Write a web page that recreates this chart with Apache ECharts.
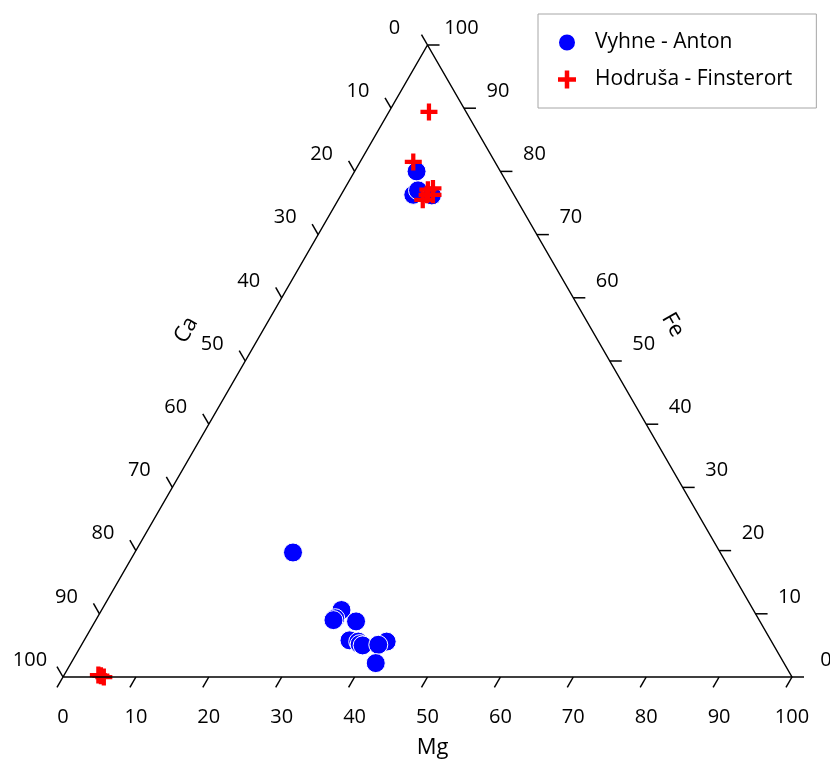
<!DOCTYPE html>
<html>
<head>
<meta charset="utf-8">
<script src="https://cdn.jsdelivr.net/npm/echarts@6/dist/echarts.min.js"></script>
<style>
  html, body { margin: 0; padding: 0; background: #fff; }
  #chart { width: 830px; height: 760px; }
</style>
</head>
<body>
<div id="chart"></div>
<script>
// ternary values: Ca, Mg, Fe (%)
const vyhneCa = [11.5, 13.8, 12.8, 11.3, 58.6, 56.5, 58.0, 58.4, 55.4, 57.8, 56.7, 56.7, 56.4, 52.8, 54.2, 56.0];
const vyhneMg = [8.5, 9.9, 10.2, 12.5, 21.7, 32.9, 32.7, 32.6, 35.8, 36.4, 37.7, 38.1, 38.6, 41.6, 40.7, 41.8];
const vyhneFe = [80.0, 76.3, 77.0, 76.2, 19.7, 10.6, 9.3, 9.0, 8.8, 5.8, 5.6, 5.2, 5.0, 5.6, 5.1, 2.2];

const hodrusaCa = [5.1, 11.2, 12.9, 11.4, 10.6, 11.9, 11.1, 95.0, 94.7, 94.4];
const hodrusaMg = [5.5, 7.3, 11.6, 11.5, 12.1, 11.8, 12.6, 4.7, 5.1, 5.6];
const hodrusaFe = [89.4, 81.5, 75.5, 77.1, 77.3, 76.3, 76.3, 0.3, 0.2, 0.0];

const ticks = [0, 10, 20, 30, 40, 50, 60, 70, 80, 90, 100];
const seriesNames = ['Vyhne - Anton', 'Hodruša - Finsterort'];
const axisNames = ['Ca', 'Mg', 'Fe'];

const SQ = Math.sqrt(3) / 2;
const H = 100 * SQ;
const FONT = '"Open Sans", sans-serif';

// ternary -> plane (bottom-left Ca, bottom-right Mg, apex Fe)
function toXY(ca, mg, fe) {
    const s = ca + mg + fe;
    const m = mg / s * 100, f = fe / s * 100;
    return [m + f / 2, f * SQ];
}

function build(ca, mg, fe) {
    return ca.map((c, i) => toXY(c, mg[i], fe[i]));
}

const plusPath = 'path://M3,0H5V3H8V5H5V8H3V5H0V3H3Z';

function renderTicks(params, api) {
    const t = api.value(0);
    const L = 1.65;
    const b0 = [t, 0], b1 = [t - 0.5 * L, -SQ * L];
    const l0 = [(100 - t) / 2, (100 - t) * SQ], l1 = [l0[0] - 0.5 * L, l0[1] + SQ * L];
    const r0 = [100 - t / 2, t * SQ], r1 = [r0[0] + L, r0[1]];
    const line = (a, b) => {
        const p = api.coord(a), q = api.coord(b);
        return {
            type: 'line',
            shape: { x1: p[0], y1: p[1], x2: q[0], y2: q[1] },
            style: { stroke: '#000', lineWidth: 1.5 }
        };
    };
    const label = (a, dx, dy) => {
        const p = api.coord(a);
        return {
            type: 'text',
            x: p[0] + dx, y: p[1] + dy,
            style: { text: String(t), font: '20px ' + FONT, fill: '#000', align: 'center', verticalAlign: 'middle' }
        };
    };
    return {
        type: 'group',
        children: [
            line(b0, b1), line(l0, l1), line(r0, r1),
            label(b0, 0, 40), label(l0, -33, -17), label(r0, 34, -17)
        ]
    };
}

function renderTitles(params, api) {
    const txt = (name, a, dx, dy, rot) => {
        const p = api.coord(a);
        return {
            type: 'text',
            x: p[0] + dx, y: p[1] + dy, rotation: rot,
            style: { text: name, font: '22px ' + FONT, fill: '#000', align: 'center', verticalAlign: 'middle' }
        };
    };
    return {
        type: 'group',
        children: [
            txt(axisNames[0], [25, H / 2], -59, -31, Math.PI / 3),
            txt(axisNames[1], [50, 0], 5, 71, 0),
            txt(axisNames[2], [75, H / 2], 63, -36, -Math.PI / 3)
        ]
    };
}

const chart = echarts.init(document.getElementById('chart'));
chart.setOption({
    animation: false,
    backgroundColor: '#fff',
    grid: { left: 63, right: 38, top: 45, bottom: 83 },
    xAxis: { type: 'value', min: 0, max: 100, show: false },
    yAxis: { type: 'value', min: 0, max: H, show: false },
    legend: {
        orient: 'vertical',
        left: 538,
        top: 14,
        padding: [18, 24, 18, 19],
        itemWidth: 18,
        itemHeight: 18,
        itemGap: 16,
        borderColor: '#a6a6a6',
        borderWidth: 1,
        data: seriesNames,
        textStyle: { fontFamily: FONT, fontSize: 21, color: '#000', padding: [0, 0, 0, 14] }
    },
    series: [
        {
            type: 'line',
            silent: true,
            symbol: 'none',
            data: [[0, 0], [100, 0], [50, H], [0, 0]],
            lineStyle: { color: '#000', width: 1.5 },
            clip: false
        },
        {
            type: 'custom',
            silent: true,
            clip: false,
            renderItem: renderTicks,
            data: ticks.map(t => [t, 0])
        },
        {
            type: 'custom',
            silent: true,
            clip: false,
            renderItem: renderTitles,
            data: [[50, 0]]
        },
        {
            name: seriesNames[0],
            type: 'scatter',
            symbol: 'circle',
            symbolSize: 19,
            itemStyle: { color: '#0000ff', borderColor: '#fff', borderWidth: 1, opacity: 1 },
            data: build(vyhneCa, vyhneMg, vyhneFe),
            clip: false
        },
        {
            name: seriesNames[1],
            type: 'scatter',
            symbol: plusPath,
            symbolSize: 17,
            itemStyle: { color: '#ff0000', opacity: 1 },
            data: build(hodrusaCa, hodrusaMg, hodrusaFe),
            clip: false
        }
    ]
});
</script>
</body>
</html>
